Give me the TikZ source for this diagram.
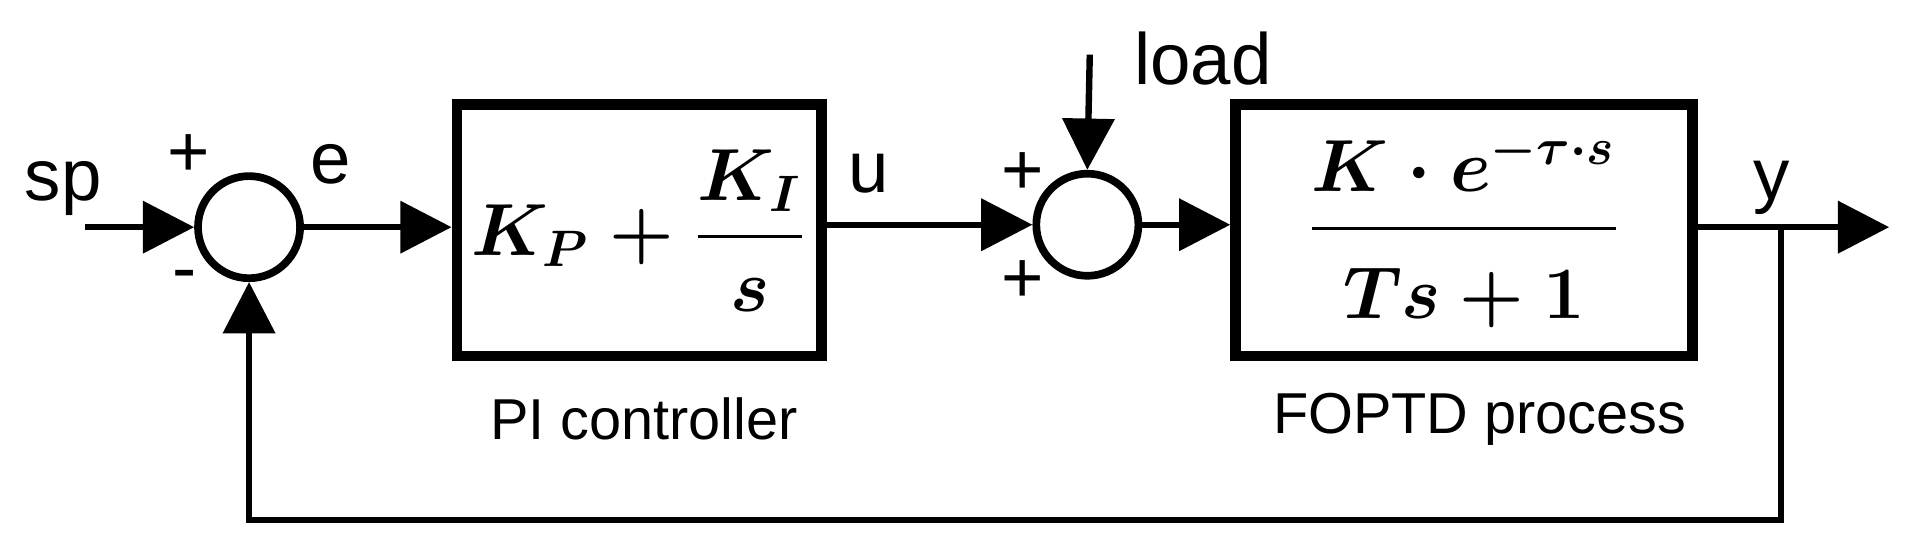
\documentclass[tikz,border=0pt]{standalone}
\usepackage{fontspec}
\usepackage{amsmath}
\setmainfont{Liberation Sans}
\usetikzlibrary{arrows.meta}
\begin{document}
\begin{tikzpicture}[x=0.01cm,y=-0.01cm,
  ln/.style={line width=1.5pt},
  arr/.style={ln,-{Triangle[length=12pt,width=12pt]}},
  blk/.style={draw,line width=2.4pt,inner sep=0pt},
  sum/.style={draw,circle,line width=1.8pt,minimum size=0.84cm,inner sep=0pt},
  lbl/.style={font=\fontsize{17}{20}\selectfont},
  sml/.style={font=\fontsize{13.5}{16}\selectfont}]
\useasboundingbox (0,0) rectangle (1568,459);
\node[sum] (s1) at (205,187) {};
\node[sum] (s2) at (895,185) {};
\node[blk,minimum width=3cm,minimum height=2.07cm] (b1) at (526,189.5) {};
\node[blk,minimum width=3.76cm,minimum height=2.07cm] (b2) at (1205,189.5) {};
\node at (b1) {\fontsize{17}{20}\selectfont$\boldsymbol{K_P+\dfrac{K_I}{s}}$};
\node at (b2) {\fontsize{17}{20}\selectfont$\boldsymbol{\dfrac{K\cdot e^{-\tau\cdot s}}{\rule{0pt}{1.1em}Ts+1}}$};
\coordinate (in) at (70,187);
\coordinate (out) at (1555,187);
\coordinate (ld) at (897,45);
\coordinate (fb) at (1466,187);
\coordinate (c1) at (1466,428);
\coordinate (c2) at (205,428);
\draw[arr] (in) -- (s1.west);
\draw[arr] (s1.east) -- (b1.west|-s1);
\draw[arr] (b1.east|-s2) -- (s2.west);
\draw[arr] (s2.east) -- (b2.west|-s2);
\draw[arr] (b2.east|-out) -- (out);
\draw[arr] (ld) -- (s2.north);
\draw[arr] (fb) -- (c1) -- (c2) -- (s1.south);
\node[lbl] (tsp) at (52,155) {sp};
\node[lbl] (tp1) at (155,128) {+};
\node[lbl] (te) at (272,135) {e};
\node[lbl] (tm) at (152,232) {-};
\node[lbl] (tu) at (715,143) {u};
\node[lbl] (tp2) at (842,143) {+};
\node[lbl] (tp3) at (842,232) {+};
\node[lbl] (tload) at (990,48) {load};
\node[lbl] (ty) at (1458,155) {y};
\node[sml] (tpi) at (530,345) {PI controller};
\node[sml] (tfo) at (1218,345) {FOPTD process};
\end{tikzpicture}
\end{document}
